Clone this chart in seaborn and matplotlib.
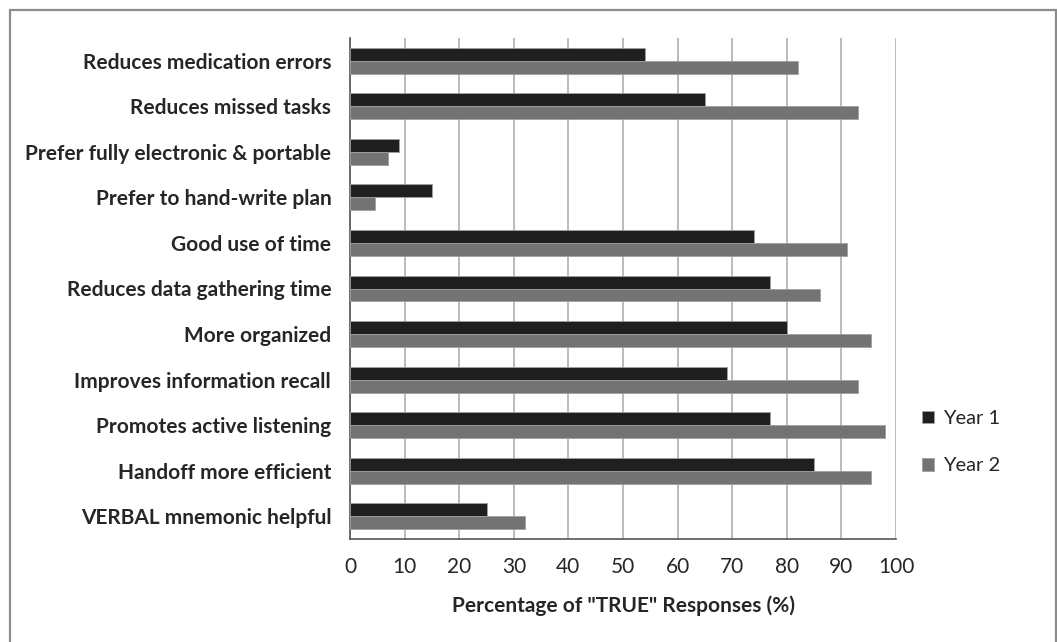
import pandas as pd
import matplotlib.pyplot as plt
import seaborn as sns
import numpy as np
from matplotlib.patches import Rectangle

# --- données ---
categories = [
    'Reduces medication errors',
    'Reduces missed tasks',
    'Prefer fully electronic & portable',
    'Prefer to hand-write plan',
    'Good use of time',
    'Reduces data gathering time',
    'More organized',
    'Improves information recall',
    'Promotes active listening',
    'Handoff more efficient',
    'VERBAL mnemonic helpful',
]
year1 = [54, 65, 9, 15, 74, 77, 80, 69, 77, 85, 25]
year2 = [82, 93, 7, 4.5, 91, 86, 95.5, 93, 98, 95.5, 32]
series_names = ['Year 1', 'Year 2']
x_ticks = list(range(0, 101, 10))

df = pd.DataFrame({
    'Item': categories * 2,
    'Pct': year1 + year2,
    'Year': [series_names[0]] * len(categories) + [series_names[1]] * len(categories),
})

sns.set_style('white')
plt.rcParams['font.family'] = ['Lato', 'DejaVu Sans']

W, H = 1057, 642
fig = plt.figure(figsize=(W / 100, H / 100), dpi=100)
ax = fig.add_axes([350 / W, 1 - 539 / H, 546 / W, 501 / H])

sns.barplot(data=df, y='Item', x='Pct', hue='Year', order=categories,
            palette=['#1f1f1f', '#737373'], width=0.57, gap=0,
            edgecolor='#a0a0a0', linewidth=0.6, orient='h', ax=ax, zorder=3)

ax.set_xlim(0, 100)
ax.set_ylim(len(categories) - 0.5, -0.5)
ax.set_xticks(x_ticks)
ax.set_xticklabels([str(t) for t in x_ticks], fontsize=15)
ax.set_yticks(range(len(categories)))
ax.set_yticklabels(categories, fontsize=15, fontweight='bold')
ax.set_yticks(np.arange(-0.5, len(categories), 1), minor=True)
ax.tick_params(axis='y', which='major', length=0, pad=13.5)
ax.tick_params(axis='y', which='minor', length=5, width=1.2, color='#555555', direction='out')
ax.tick_params(axis='x', length=5, width=1.2, color='#555555', direction='out', pad=8)
ax.set_ylabel('')
ax.set_xlabel('Percentage of "TRUE" Responses (%)', fontsize=15, fontweight='bold', labelpad=13)

ax.grid(axis='x', color='#b5b5b5', linewidth=1.3, zorder=0)
ax.set_axisbelow(True)
for s in ['top', 'right']:
    ax.spines[s].set_visible(False)
for s in ['left', 'bottom']:
    ax.spines[s].set_color('#555555')
    ax.spines[s].set_linewidth(1.2)

ax.legend(loc='center left', bbox_to_anchor=(1.048, 0.193), frameon=False,
          fontsize=14.5, handlelength=0.6, handleheight=0.6,
          labelspacing=1.5, handletextpad=0.45, borderpad=0, borderaxespad=0)

# cadre gris autour de la figure (coupé en bas et à droite)
fig.patches.append(Rectangle((10 / W, -0.05), 1046 / W, 1 - 10 / H + 0.05,
                             transform=fig.transFigure, fill=False,
                             edgecolor='#8c8c8c', linewidth=1.6))

plt.savefig('out.png', dpi=100)
